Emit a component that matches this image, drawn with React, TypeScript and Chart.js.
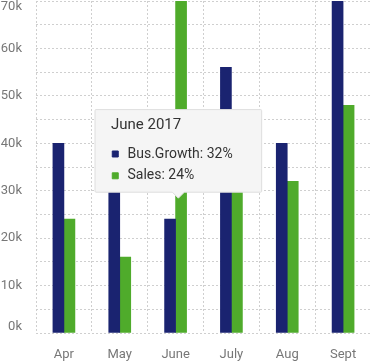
import React, { useEffect, useRef } from "react";
import { Chart, registerables, Tooltip } from "chart.js";

Chart.register(...registerables);

const categories = ["Apr", "May", "June", "July", "Aug", "Sept"];
const busGrowth = [40000, 38000, 24000, 56000, 40000, 76000];
const sales = [24000, 16000, 74000, 36000, 32000, 48000];
const seriesNames = ["Bus.Growth", "Sales"];
const seriesColors = ["#1a2370", "#4fab2b"];
const tooltipCategory = "June";
const tooltipTitle = "June 2017";
const tooltipPercents = [32, 24];
const tooltipAnchorValue = 28000;
const yMin = 0;
const yMax = 70000;
const yStep = 5000;
const yLabelStep = 10000;

(Tooltip as any).positioners.groupAbove = function (elements: any[]) {
  if (!elements.length) return false;
  const chart = (this as any).chart;
  const x = elements.reduce((s: number, e: any) => s + e.element.x, 0) / elements.length;
  const w = elements[0].element.width || 0;
  return {
    x: x + w / 4,
    y: chart.scales.y.getPixelForValue(tooltipAnchorValue),
    xAlign: "center",
    yAlign: "bottom",
  };
};

export default function App() {
  const ref = useRef<HTMLCanvasElement>(null);
  useEffect(() => {
    document.body.style.margin = "0";
    const gridColor = "#cfcfcf";
    const chart = new Chart(ref.current!, {
      type: "bar",
      data: {
        labels: categories,
        datasets: [
          { label: seriesNames[0], data: busGrowth, backgroundColor: seriesColors[0], barThickness: 11 },
          { label: seriesNames[1], data: sales, backgroundColor: seriesColors[1], barThickness: 11 },
        ],
      },
      options: {
        animation: false,
        responsive: true,
        maintainAspectRatio: false,
        events: [],
        layout: { padding: { top: 1, right: 0, left: 0, bottom: 0 } },
        scales: {
          x: {
            border: { display: false, dash: [2, 2] },
            grid: { color: gridColor, drawTicks: false },
            ticks: { color: "#777777", padding: 14, font: { family: "Roboto", size: 13 } },
            afterFit: (scale: any) => {
              scale.height = 29;
            },
          },
          y: {
            min: yMin,
            max: yMax,
            border: { display: false, dash: [2, 2] },
            grid: { color: gridColor, drawTicks: false },
            ticks: {
              stepSize: yStep,
              autoSkip: false,
              color: "#777777",
              padding: 14,
              font: { family: "Roboto", size: 13, lineHeight: 0.89 },
              callback: (v: any) => {
                const n = Number(v);
                if (n % yLabelStep !== 0) return "";
                const s = n / 1000 + "k";
                if (n === yMax) return ["", s];
                if (n === yMin) return [s, ""];
                return s;
              },
            },
            afterFit: (scale: any) => {
              scale.width = 36;
              scale.paddingTop = 0;
              scale.paddingBottom = 0;
            },
          },
        },
        plugins: {
          legend: { display: false },
          tooltip: {
            enabled: true,
            position: "groupAbove" as any,
            xAlign: "center",
            yAlign: "bottom",
            backgroundColor: "#f5f5f5",
            borderColor: "#dedede",
            borderWidth: 1,
            cornerRadius: 1,
            caretSize: 6,
            caretPadding: 2,
            padding: { top: 7, bottom: 8, left: 16, right: 29 } as any,
            titleColor: "#333333",
            bodyColor: "#333333",
            titleFont: { family: "Roboto", size: 15, weight: "normal" },
            bodyFont: { family: "Roboto", size: 14 },
            titleMarginBottom: 11,
            bodySpacing: 5,
            boxWidth: 8.5,
            boxHeight: 8.5,
            boxPadding: 6,
            usePointStyle: true,
            callbacks: {
              title: () => tooltipTitle,
              label: (ctx: any) => `${ctx.dataset.label}: ${tooltipPercents[ctx.datasetIndex]}%`,
              labelPointStyle: () => ({ pointStyle: "rect", rotation: 0 }),
              labelColor: (ctx: any) => ({
                borderColor: seriesColors[ctx.datasetIndex],
                backgroundColor: seriesColors[ctx.datasetIndex],
              }),
            },
          },
        },
      },
    });
    const idx = categories.indexOf(tooltipCategory);
    chart.tooltip!.setActiveElements(
      [
        { datasetIndex: 0, index: idx },
        { datasetIndex: 1, index: idx },
      ],
      { x: 0, y: 0 }
    );
    chart.update();
    return () => chart.destroy();
  }, []);
  return (
    <div style={{ width: 371, height: 362, position: "relative" }}>
      <canvas ref={ref} />
    </div>
  );
}
